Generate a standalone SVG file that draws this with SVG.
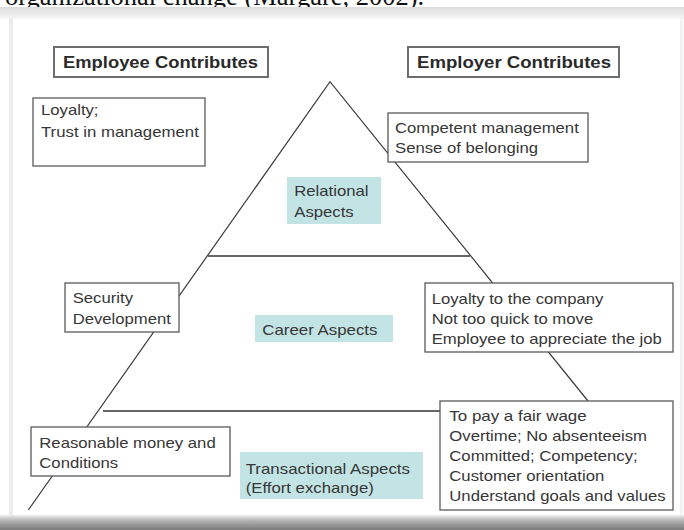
<svg xmlns="http://www.w3.org/2000/svg" width="684" height="530" viewBox="0 0 684 530">
  <defs>
    <style>
      .box { fill: #ffffff; stroke: #5a5a5a; stroke-width: 1.3; }
      .head { fill: #ffffff; stroke: #6e6e6e; stroke-width: 2; }
      .aspect { fill: #c3e4e5; stroke: none; }
      .t { font-family: "Liberation Sans", Arial, sans-serif; font-size: 15px; fill: #363636; }
      .h { font-family: "Liberation Sans", Arial, sans-serif; font-size: 16.5px; font-weight: bold; fill: #2a2a2a; }
      .cap { font-family: "Liberation Serif", "Times New Roman", serif; font-size: 26.5px; fill: #111111; }
      .edge { fill: none; stroke: #3a3a3a; stroke-width: 1.2; }
      .tier { fill: none; stroke: #666666; stroke-width: 1.8; }
    </style>
    <linearGradient id="topBand" x1="0" y1="0" x2="0" y2="1">
      <stop offset="0" stop-color="#dcdcdc"/>
      <stop offset="1" stop-color="#f7f7f7"/>
    </linearGradient>
    <linearGradient id="bottomShade" x1="0" y1="0" x2="0" y2="1">
      <stop offset="0" stop-color="#eeeeee"/>
      <stop offset="0.4" stop-color="#b0b0b0"/>
      <stop offset="1" stop-color="#7a7a7a"/>
    </linearGradient>
  </defs>

  <!-- page background and caption line above the figure -->
  <rect x="0" y="0" width="684" height="530" fill="#ffffff"/>
  <text class="cap" x="5" y="5">organizational change (Margare, 2002).</text>

  <!-- figure frame -->
  <rect x="0" y="7" width="684" height="12" fill="url(#topBand)"/>
  <rect x="9" y="18" width="4" height="500" fill="#ececec"/>
  <rect x="680" y="18" width="3" height="500" fill="#f3f3f3"/>
  <rect x="0" y="515" width="684" height="15" fill="url(#bottomShade)"/>

  <!-- pyramid outline and tier dividers -->
  <g id="connectors">
    <polyline class="edge" points="28.3,510 330,81.7 588,401"/>
    <line class="tier" x1="208" y1="256" x2="470" y2="256"/>
    <line class="tier" x1="103" y1="411" x2="440" y2="411"/>
  </g>

  <g id="employee-header">
    <rect class="head" x="54" y="47" width="214" height="30"/>
    <text class="h" x="63" y="68" textLength="195" lengthAdjust="spacingAndGlyphs">Employee Contributes</text>
  </g>

  <g id="employer-header">
    <rect class="head" x="408" y="47" width="211" height="30"/>
    <text class="h" x="417" y="68" textLength="194" lengthAdjust="spacingAndGlyphs">Employer Contributes</text>
  </g>

  <g id="employee-relational">
    <rect class="box" x="33" y="98" width="172" height="68"/>
    <text class="t" x="41" y="115" textLength="57.5" lengthAdjust="spacingAndGlyphs">Loyalty;</text>
    <text class="t" x="41" y="137" textLength="157.8" lengthAdjust="spacingAndGlyphs">Trust in management</text>
  </g>

  <g id="employer-relational">
    <rect class="box" x="388" y="113" width="200" height="49"/>
    <text class="t" x="395" y="133" textLength="183.8" lengthAdjust="spacingAndGlyphs">Competent management</text>
    <text class="t" x="395" y="153" textLength="143" lengthAdjust="spacingAndGlyphs">Sense of belonging</text>
  </g>

  <g id="relational-aspects">
    <rect class="aspect" x="287" y="177" width="94" height="47"/>
    <text class="t" x="294.3" y="196" textLength="74.2" lengthAdjust="spacingAndGlyphs">Relational</text>
    <text class="t" x="294.3" y="217" textLength="59.4" lengthAdjust="spacingAndGlyphs">Aspects</text>
  </g>

  <g id="employee-career">
    <rect class="box" x="65" y="283" width="114" height="49"/>
    <text class="t" x="72.7" y="303" textLength="60.3" lengthAdjust="spacingAndGlyphs">Security</text>
    <text class="t" x="72.7" y="324" textLength="98.2" lengthAdjust="spacingAndGlyphs">Development</text>
  </g>

  <g id="career-aspects">
    <rect class="aspect" x="255" y="315" width="138" height="27"/>
    <text class="t" x="262.3" y="335" textLength="115.1" lengthAdjust="spacingAndGlyphs">Career Aspects</text>
  </g>

  <g id="employer-career">
    <rect class="box" x="425" y="283" width="248" height="69"/>
    <text class="t" x="431.7" y="304" textLength="171.7" lengthAdjust="spacingAndGlyphs">Loyalty to the company</text>
    <text class="t" x="431.7" y="324" textLength="161.5" lengthAdjust="spacingAndGlyphs">Not too quick to move</text>
    <text class="t" x="431.7" y="343.5" textLength="230.2" lengthAdjust="spacingAndGlyphs">Employee to appreciate the job</text>
  </g>

  <g id="employee-transactional">
    <rect class="box" x="31" y="427" width="199" height="49"/>
    <text class="t" x="39.3" y="448.3" textLength="176.4" lengthAdjust="spacingAndGlyphs">Reasonable money and</text>
    <text class="t" x="39.3" y="468.3" textLength="78.9" lengthAdjust="spacingAndGlyphs">Conditions</text>
  </g>

  <g id="transactional-aspects">
    <rect class="aspect" x="240" y="452" width="183" height="47"/>
    <text class="t" x="245.7" y="474" textLength="164.3" lengthAdjust="spacingAndGlyphs">Transactional Aspects</text>
    <text class="t" x="245.7" y="493" textLength="128.1" lengthAdjust="spacingAndGlyphs">(Effort exchange)</text>
  </g>

  <g id="employer-transactional">
    <rect class="box" x="440" y="401" width="233" height="109"/>
    <text class="t" x="449.3" y="420.7" textLength="137.4" lengthAdjust="spacingAndGlyphs">To pay a fair wage</text>
    <text class="t" x="449.3" y="441" textLength="197.7" lengthAdjust="spacingAndGlyphs">Overtime; No absenteeism</text>
    <text class="t" x="449.3" y="461" textLength="188.4" lengthAdjust="spacingAndGlyphs">Committed; Competency;</text>
    <text class="t" x="449.3" y="481" textLength="155" lengthAdjust="spacingAndGlyphs">Customer orientation</text>
    <text class="t" x="449.3" y="500.5" textLength="216.3" lengthAdjust="spacingAndGlyphs">Understand goals and values</text>
  </g>
</svg>
